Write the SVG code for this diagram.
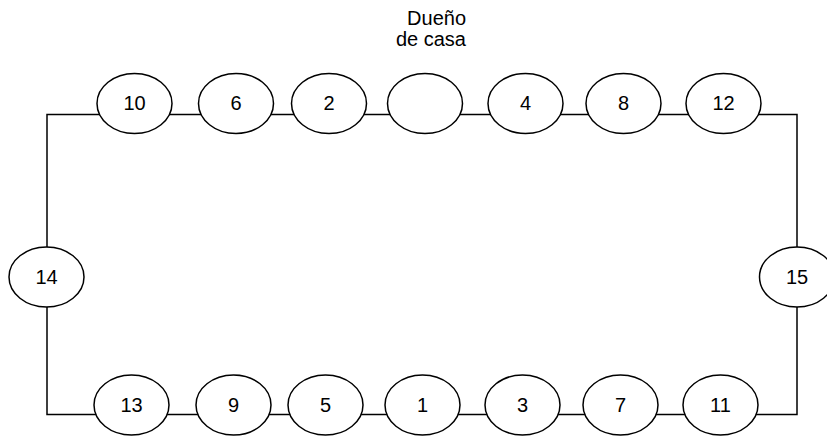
<svg xmlns="http://www.w3.org/2000/svg" width="827" height="436" viewBox="0 0 827 436">
<style>
.n ellipse{fill:#fff;stroke:#000;stroke-width:1.5}
.n text,.lbl{font-family:"Liberation Sans",Arial,sans-serif;font-size:20px;fill:#000}
.n text{text-anchor:middle}
.c{fill:none;stroke:#000;stroke-width:1.5}
</style>
<rect width="827" height="436" fill="#fff"/>
<g id="connectors" class="c">
<path d="M47,247 V114.5 H797 V247"/>
<path d="M47,307 V414.5 H797 V307"/>
</g>
<g id="n10" class="n"><ellipse cx="134.5" cy="103.5" rx="37.5" ry="30"/><text x="134.5" y="110">10</text></g>
<g id="n6" class="n"><ellipse cx="236" cy="103.5" rx="37.5" ry="30"/><text x="236" y="110">6</text></g>
<g id="n2" class="n"><ellipse cx="329" cy="103.5" rx="37.5" ry="30"/><text x="329" y="110">2</text></g>
<g id="owner" class="n"><ellipse cx="425" cy="103.5" rx="37.5" ry="30"/></g>
<g id="n4" class="n"><ellipse cx="525.5" cy="103.5" rx="37.5" ry="30"/><text x="525.5" y="110">4</text></g>
<g id="n8" class="n"><ellipse cx="623.5" cy="103.5" rx="37.5" ry="30"/><text x="623.5" y="110">8</text></g>
<g id="n12" class="n"><ellipse cx="723.5" cy="103.5" rx="37.5" ry="30"/><text x="723.5" y="110">12</text></g>
<g id="n14" class="n"><ellipse cx="46.5" cy="277" rx="37.5" ry="30"/><text x="46.5" y="283.5">14</text></g>
<g id="n15" class="n"><ellipse cx="797" cy="277" rx="37.5" ry="30"/><text x="797" y="283.5">15</text></g>
<g id="n13" class="n"><ellipse cx="131.5" cy="405" rx="37.5" ry="30"/><text x="131.5" y="411.5">13</text></g>
<g id="n9" class="n"><ellipse cx="233.5" cy="405" rx="37.5" ry="30"/><text x="233.5" y="411.5">9</text></g>
<g id="n5" class="n"><ellipse cx="325.5" cy="405" rx="37.5" ry="30"/><text x="325.5" y="411.5">5</text></g>
<g id="n1" class="n"><ellipse cx="422.5" cy="405" rx="37.5" ry="30"/><text x="422.5" y="411.5">1</text></g>
<g id="n3" class="n"><ellipse cx="522.5" cy="405" rx="37.5" ry="30"/><text x="522.5" y="411.5">3</text></g>
<g id="n7" class="n"><ellipse cx="620.5" cy="405" rx="37.5" ry="30"/><text x="620.5" y="411.5">7</text></g>
<g id="n11" class="n"><ellipse cx="720.5" cy="405" rx="37.5" ry="30"/><text x="720.5" y="411.5">11</text></g>
<g id="label"><text class="lbl" x="466" y="24.5" text-anchor="end">Dueño</text><text class="lbl" x="466" y="45.5" text-anchor="end">de casa</text></g>
</svg>
